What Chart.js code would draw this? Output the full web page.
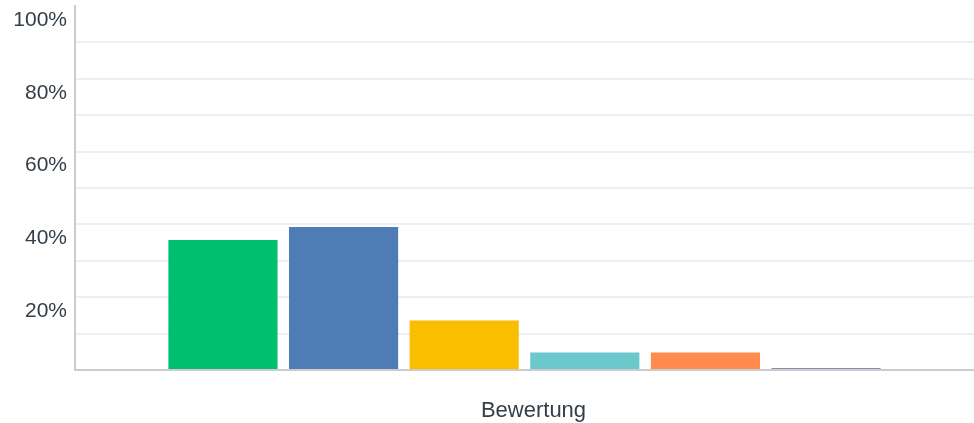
<!DOCTYPE html>
<html>
<head>
<meta charset="utf-8">
<script src="https://cdn.jsdelivr.net/npm/chart.js@4/dist/chart.umd.min.js"></script>
<style>
  html, body { margin: 0; padding: 0; background: #fff; }
  #wrap { width: 974px; height: 423px; position: relative; }
</style>
</head>
<body>
<div id="wrap"><canvas id="chartBewertung"></canvas></div>
<script>
// data
const categories = ["Bewertung"];
const answers = ["Sehr gut", "Gut", "Mittel", "Schlecht", "Sehr schlecht", "Keine Angabe"];
const shares = [35.7, 39.3, 13.6, 4.8, 4.8, 0.5];
const colors = ["#00BF6F", "#507CB6", "#F9BE00", "#6BC8CD", "#FF8B4F", "#7D5E90"];
const yTicks = [20, 40, 60, 80, 100];

const font = "'Liberation Sans', Arial, Helvetica, sans-serif";
const textColor = "#333e48";

new Chart(document.getElementById("chartBewertung"), {
  type: "bar",
  data: {
    labels: categories,
    datasets: answers.map((a, i) => ({
      label: a,
      data: [shares[i]],
      backgroundColor: colors[i],
      borderWidth: 0,
      categoryPercentage: 0.805,
      barPercentage: 0.905
    }))
  },
  options: {
    responsive: true,
    maintainAspectRatio: false,
    animation: false,
    layout: { padding: { top: 6, right: 0, left: 0, bottom: 0 } },
    plugins: {
      legend: { display: false },
      tooltip: { enabled: false }
    },
    scales: {
      x: {
        afterFit: s => { s.height = 53; s.paddingLeft = 0; s.paddingRight = 0; },
        grid: { display: false, drawTicks: false },
        border: { color: "#cccccc", width: 2 },
        ticks: { color: textColor, font: { family: font, size: 22 }, padding: 28, maxRotation: 0, labelOffset: 9 }
      },
      y: {
        min: 0,
        max: 100,
        afterFit: s => { s.width = 75; s.paddingTop = 0; s.paddingBottom = 0; },
        grid: {
          drawTicks: false,
          lineWidth: 2,
          color: c => (c.tick && (c.tick.value === 100 || c.tick.value === 0)) ? "rgba(0,0,0,0)" : "#efefef"
        },
        border: { color: "#cccccc", width: 2 },
        ticks: {
          stepSize: 10,
          padding: 8,
          labelOffset: 14,
          color: textColor,
          font: { family: font, size: 21 },
          callback: v => yTicks.includes(v) ? v + "%" : ""
        }
      }
    }
  }
});
</script>
</body>
</html>
